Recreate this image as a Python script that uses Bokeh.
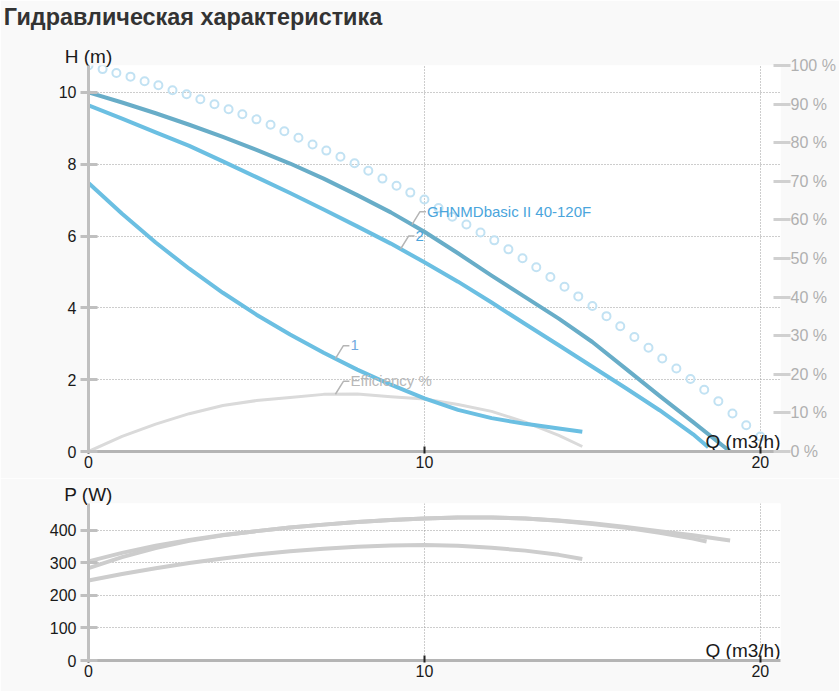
import numpy as np
from bokeh.plotting import figure
from bokeh.models import Range1d, LinearAxis, FixedTicker
from bokeh.layouts import column
from bokeh.embed import file_html
from bokeh.resources import INLINE
from bokeh.core.properties import value

FONT = "Liberation Sans"

# ---------------- texts ----------------
title_text = "Гидравлическая характеристика"
h_label = "H (m)"
p_label = "P (W)"
q_label = "Q (m3/h)"
pump_name = "GHNMDbasic II 40-120F"
eff_name = "Efficiency %"

# ---------------- ticks ----------------
q_ticks = [0, 10, 20]
h_ticks = [0, 2, 4, 6, 8, 10]
pct_ticks = [0, 10, 20, 30, 40, 50, 60, 70, 80, 90, 100]
pct_tick_labels = ["0 %", "10 %", "20 %", "30 %", "40 %", "50 %", "60 %", "70 %", "80 %", "90 %", "100 %"]
p_ticks = [0, 100, 200, 300, 400]

# ---------------- Q-H curves ----------------
q_a = [0, 1, 2, 3, 4, 5, 6, 7, 8, 9, 10, 11, 12, 13, 14, 15, 16, 17, 18, 19.1]
h_a = [10.0, 9.72, 9.42, 9.1, 8.76, 8.4, 8.02, 7.6, 7.14, 6.66, 6.12, 5.52, 4.9, 4.3, 3.7, 3.05, 2.3, 1.55, 0.82, 0.0]

q_b = [0, 1, 2, 3, 4, 5, 6, 7, 8, 9, 10, 11, 12, 13, 14, 15, 16, 17, 18, 18.45]
h_b = [9.64, 9.27, 8.89, 8.51, 8.08, 7.64, 7.2, 6.74, 6.27, 5.79, 5.27, 4.73, 4.15, 3.55, 2.96, 2.36, 1.76, 1.15, 0.48, 0.12]

q_c = [0, 1, 2, 3, 4, 5, 6, 7, 8, 9, 10, 11, 12, 13, 14, 14.7]
h_c = [7.48, 6.62, 5.82, 5.09, 4.42, 3.81, 3.26, 2.75, 2.28, 1.86, 1.48, 1.16, 0.93, 0.77, 0.64, 0.55]

# efficiency (%)
q_eff = [0, 1, 2, 3, 4, 5, 6, 7, 8, 9, 10, 11, 12, 13, 14, 14.7]
eff = [0, 3.9, 7.1, 9.8, 11.9, 13.2, 14.0, 14.8, 14.9, 14.2, 13.6, 12.2, 10.4, 7.6, 4.2, 1.3]

# hollow-circle curve
q_dots = [0, 0.42, 0.83, 1.25, 1.67, 2.08, 2.5, 2.92, 3.33, 3.75, 4.17, 4.58, 5.0, 5.42, 5.83,
          6.25, 6.67, 7.08, 7.5, 7.92, 8.33, 8.75, 9.17, 9.58, 10.0, 10.42, 10.83, 11.25, 11.67,
          12.08, 12.5, 12.92, 13.33, 13.75, 14.17, 14.58, 15.0, 15.42, 15.83, 16.25, 16.67,
          17.08, 17.5, 17.92, 18.33, 18.75, 19.17, 19.58, 20.0]
h_dots = [10.75, 10.65, 10.54, 10.44, 10.31, 10.2, 10.06, 9.95, 9.81, 9.67, 9.53, 9.39, 9.25, 9.1, 8.92,
          8.74, 8.55, 8.38, 8.21, 8.03, 7.82, 7.6, 7.4, 7.21, 7.02, 6.78, 6.54, 6.32, 6.1,
          5.88, 5.63, 5.38, 5.13, 4.86, 4.59, 4.32, 4.05, 3.77, 3.49, 3.19, 2.89,
          2.59, 2.31, 2.02, 1.72, 1.4, 1.06, 0.73, 0.42]

# ---------------- power curves ----------------
q_p1 = [0, 1, 2, 3, 4, 5, 6, 7, 8, 9, 10, 11, 12, 13, 14, 15, 16, 17, 18, 19.1]
p_1 = [305, 331, 353, 371, 386, 398, 409, 418, 426, 432, 437, 440, 440, 437, 431, 422, 411, 398, 385, 369]
q_p2 = [0, 1, 2, 3, 4, 5, 6, 7, 8, 9, 10, 11, 12, 13, 14, 15, 16, 17, 18, 18.4]
p_2 = [284, 318, 346, 368, 385, 398, 409, 418, 426, 432, 437, 440, 440, 437, 430, 420, 408, 393, 375, 366]
q_p3 = [0, 1, 2, 3, 4, 5, 6, 7, 8, 9, 10, 11, 12, 13, 14, 14.7]
p_3 = [246, 266, 284, 300, 314, 326, 336, 344, 350, 354, 355, 353, 347, 338, 325, 312]

# label anchors (Q on the curve where the leader starts)
anchor_pump_q = 9.63
anchor_2_q = 9.29
anchor_1_q = 7.35
anchor_eff_q = 7.35

# ---------------- layout constants ----------------
W = 839
X_END = 20.6
H_END = 10.75
P_END = 483
ML, MR = 88, 59
FRAME_W = W - ML - MR
TOP_H, TOP_MT, TOP_MB = 478, 63, 27
BOT_H, BOT_MT, BOT_MB = 213, 25, 31
TOP_FH = TOP_H - TOP_MT - TOP_MB
UX = FRAME_W / X_END
UY = TOP_FH / H_END
TITLE_CENTER_PX = 192.5

BG = "#f9f9f9"
COL_A = "#68adc8"
COL_B = "#6bbfe2"
COL_DOTS = "#c2e2f3"
COL_GRAY = "#cdcdcd"
COL_EFF = "#dadada"
COL_TXT = "#1a1a1a"


def style(p, yticks):
    xa = p.xaxis[0]
    xa.ticker = FixedTicker(ticks=q_ticks)
    xa.axis_line_color = "#b5b5b5"
    xa.axis_line_width = 3
    xa.major_tick_line_color = "#222222"
    xa.major_tick_line_width = 2
    xa.major_tick_in = 5
    xa.major_tick_out = 2
    xa.minor_tick_line_color = None
    xa.major_label_text_font = FONT
    xa.major_label_text_font_size = "16px"
    xa.major_label_text_color = COL_TXT
    xa.major_label_standoff = 2
    ya = p.yaxis[0]
    ya.ticker = FixedTicker(ticks=yticks)
    ya.axis_line_color = "#c0c0c0"
    ya.axis_line_width = 3
    ya.major_tick_line_color = "#c0c0c0"
    ya.major_tick_line_width = 3
    ya.major_tick_in = 9
    ya.major_tick_out = 8
    ya.minor_tick_line_color = None
    ya.major_label_text_font = FONT
    ya.major_label_text_font_size = "16px"
    ya.major_label_text_color = COL_TXT
    ya.major_label_standoff = 4
    p.xgrid.ticker = FixedTicker(ticks=q_ticks)
    p.ygrid.ticker = FixedTicker(ticks=yticks)
    for g in (p.xgrid, p.ygrid):
        g.grid_line_color = "#9a9a9a"
        g.grid_line_dash = "1 2"
        g.grid_line_width = 1


def text_axis(p, at, text, standoff, size="19px", bold=False, color=COL_TXT):
    ax = LinearAxis(ticker=FixedTicker(ticks=[at]), major_label_overrides={at: text})
    ax.axis_line_color = None
    ax.major_tick_line_color = None
    ax.minor_tick_line_color = None
    ax.major_tick_out = 0
    ax.major_tick_in = 0
    ax.major_label_text_font = FONT
    ax.major_label_text_font_size = size
    ax.major_label_text_color = color
    if bold:
        ax.major_label_text_font_style = "bold"
    ax.major_label_standoff = standoff
    p.add_layout(ax, "above")


# ================= top chart =================
top = figure(width=W, height=TOP_H, x_range=Range1d(0, X_END), y_range=Range1d(0, H_END),
             output_backend="svg", toolbar_location=None,
             min_border_left=ML, min_border_right=MR, min_border_top=TOP_MT, min_border_bottom=TOP_MB,
             background_fill_color="white", border_fill_color=BG, outline_line_color=None)
style(top, h_ticks)
text_axis(top, 0, h_label, -1)
text_axis(top, round((TITLE_CENTER_PX - ML) / UX, 3), title_text, 13, size="23.4px", bold=True, color="#333333")

top.extra_y_ranges = {"pct": Range1d(0, 100)}
ra = LinearAxis(y_range_name="pct", ticker=FixedTicker(ticks=pct_ticks),
                major_label_overrides={t: s for t, s in zip(pct_ticks, pct_tick_labels)})
ra.axis_line_color = None
ra.major_tick_line_color = "#d0d0d0"
ra.major_tick_line_width = 3
ra.major_tick_in = 7
ra.major_tick_out = 10
ra.minor_tick_line_color = None
ra.major_label_text_font = FONT
ra.major_label_text_font_size = "16px"
ra.major_label_text_color = "#b0b0b0"
ra.major_label_standoff = 0
top.add_layout(ra, "right")

top.scatter(q_dots, h_dots, marker="circle", size=8, line_color=COL_DOTS, line_width=2, fill_color=None)
top.line(q_eff, eff, y_range_name="pct", line_color=COL_EFF, line_width=3, line_join="round")
top.line(q_a, h_a, line_color=COL_A, line_width=4, line_join="round")
top.line(q_b, h_b, line_color=COL_B, line_width=4, line_join="round")
top.line(q_c, h_c, line_color=COL_B, line_width=4, line_join="round")

# leaders + labels
eff_h = [e * H_END / 100 for e in eff]
labels = [
    (anchor_pump_q, float(np.interp(anchor_pump_q, q_a, h_a)), pump_name, "#4aa5dc"),
    (anchor_2_q, float(np.interp(anchor_2_q, q_b, h_b)), "2", "#4aa5dc"),
    (anchor_1_q, float(np.interp(anchor_1_q, q_c, h_c)), "1", "#72aae0"),
    (anchor_eff_q, float(np.interp(anchor_eff_q, q_eff, eff_h)), eff_name, "#b8b8b8"),
]
for qa, ha, txt, col in labels:
    xs = [qa, qa + 8 / UX, qa + 14 / UX]
    ys = [ha, ha + 13 / UY, ha + 13 / UY]
    top.line(xs, ys, line_color="#b5b5b5", line_width=1.5)
    top.text(x=[qa + 15 / UX], y=[ha + 13.5 / UY], text=[txt], text_font=value(FONT),
             text_font_size="15px", text_color=col, text_align="left", text_baseline="middle")

top.text(x=[X_END], y=[0], text=[q_label], text_font=value(FONT), text_font_size="19px",
         text_color=COL_TXT, text_align="right", text_baseline="bottom")

# ================= bottom chart =================
bot = figure(width=W, height=BOT_H, x_range=Range1d(0, X_END), y_range=Range1d(0, P_END),
             output_backend="svg", toolbar_location=None,
             min_border_left=ML, min_border_right=MR, min_border_top=BOT_MT, min_border_bottom=BOT_MB,
             background_fill_color="white", border_fill_color=BG, outline_line_color=None)
style(bot, p_ticks)
text_axis(bot, 0, p_label, -1)

bot.line(q_p3, p_3, line_color=COL_GRAY, line_width=4, line_join="round")
bot.line(q_p2, p_2, line_color=COL_GRAY, line_width=4, line_join="round")
bot.line(q_p1, p_1, line_color=COL_GRAY, line_width=4, line_join="round")

bot.text(x=[X_END], y=[0], text=[q_label], text_font=value(FONT), text_font_size="19px",
         text_color=COL_TXT, text_align="right", text_baseline="bottom")

page = column(top, bot, spacing=0)
open("out.html", "w").write(file_html(page, INLINE))
